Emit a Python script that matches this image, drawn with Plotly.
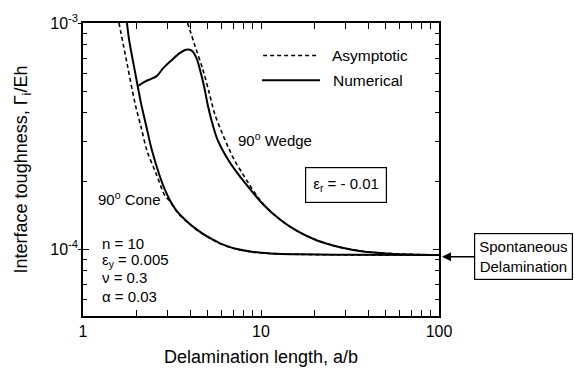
import plotly.graph_objects as go

# Normalised delamination length a/b and interface toughness Gamma_i/Eh
cone_num_x = [1.766, 1.813, 1.959, 2.118, 2.259, 2.443, 2.707, 2.888, 3.083, 3.287, 3.507, 3.839,
              4.257, 4.723, 5.306, 5.884, 6.697, 7.33, 9.02, 11.24, 16.6, 31.6, 100]
cone_num_y = [1.0e-3, 8.48e-4, 6.09e-4, 4.42e-4, 3.54e-4, 2.72e-4, 2.09e-4, 1.827e-4, 1.641e-4,
              1.511e-4, 1.418e-4, 1.326e-4, 1.238e-4, 1.168e-4, 1.107e-4, 1.060e-4, 1.020e-4,
              1.0e-4, 9.71e-5, 9.57e-5, 9.48e-5, 9.44e-5, 9.42e-5]

cone_asy_x = [1.593, 1.766, 1.959, 2.118, 2.289, 2.571, 2.888, 3.083, 3.287, 3.507, 3.839, 4.257,
              4.723, 5.306, 5.884, 6.697, 7.33, 9.02, 11.24, 16.6, 31.6, 100]
cone_asy_y = [1.0e-3, 6.65e-4, 4.42e-4, 3.47e-4, 2.72e-4, 2.165e-4, 1.72e-4, 1.625e-4, 1.50e-4,
              1.41e-4, 1.32e-4, 1.233e-4, 1.164e-4, 1.104e-4, 1.057e-4, 1.018e-4, 9.98e-5,
              9.70e-5, 9.56e-5, 9.47e-5, 9.43e-5, 9.41e-5]

wedge_num_x = [2.05, 2.23, 2.432, 2.594, 2.825, 3.149, 3.507, 3.791, 4.08, 4.354, 4.543, 4.783,
               5.037, 5.306, 5.659, 6.037, 6.525, 7.145, 7.924, 8.677, 10.26, 12.79, 15.93,
               20.64, 27.79, 37.41, 51.04, 68.73, 100]
wedge_num_y = [5.28e-4, 5.51e-4, 5.675e-4, 5.82e-4, 6.315e-4, 6.845e-4, 7.378e-4, 7.619e-4,
               7.545e-4, 6.96e-4, 6.21e-4, 5.266e-4, 4.295e-4, 3.64e-4, 3.087e-4, 2.773e-4,
               2.492e-4, 2.239e-4, 2.012e-4, 1.843e-4, 1.579e-4, 1.351e-4, 1.203e-4, 1.091e-4,
               1.0195e-4, 9.76e-5, 9.57e-5, 9.46e-5, 9.41e-5]

wedge_asy_x = [3.87, 4.26, 4.72, 5.105, 5.51, 6.037, 6.61, 7.145, 7.82, 8.45, 9.62, 11.23, 13.64,
               15.93, 20.64, 27.79, 37.41, 51.04, 100]
wedge_asy_y = [1.0e-3, 7.92e-4, 6.21e-4, 4.94e-4, 3.94e-4, 3.27e-4, 2.773e-4, 2.444e-4, 2.176e-4,
               1.974e-4, 1.69e-4, 1.475e-4, 1.30e-4, 1.205e-4, 1.093e-4, 1.02e-4, 9.77e-5,
               9.57e-5, 9.41e-5]

x_ticks = [1, 10, 100]
x_tick_text = ["1", "10", "100"]
x_minor = [2, 3, 4, 5, 6, 7, 8, 9, 20, 30, 40, 50, 60, 70, 80, 90]
y_ticks = [1e-4, 1e-3]
y_tick_text = ["10<sup>-4</sup>", "10<sup>-3</sup>"]
y_minor = [6e-5, 7e-5, 8e-5, 9e-5, 2e-4, 3e-4, 4e-4, 5e-4, 6e-4, 7e-4, 8e-4, 9e-4]

FONT = "Liberation Sans, Arial, sans-serif"
solid = dict(color="black", width=2, shape="spline", smoothing=0.9)
dashed = dict(color="black", width=1.6, dash="4px,3px", shape="spline", smoothing=0.9)

fig = go.Figure()
fig.add_trace(go.Scatter(x=cone_asy_x, y=cone_asy_y, mode="lines", line=dashed, name="Asymptotic"))
fig.add_trace(go.Scatter(x=wedge_asy_x, y=wedge_asy_y, mode="lines", line=dashed, showlegend=False))
fig.add_trace(go.Scatter(x=cone_num_x, y=cone_num_y, mode="lines", line=solid, name="Numerical"))
fig.add_trace(go.Scatter(x=wedge_num_x, y=wedge_num_y, mode="lines", line=solid, showlegend=False))

axis_common = dict(
    showline=True, linecolor="black", linewidth=1.5, mirror="allticks",
    ticks="inside", ticklen=6, tickwidth=1.2, tickcolor="black",
    showgrid=False, zeroline=False,
    tickfont=dict(family=FONT, size=16, color="black"),
)

fig.update_xaxes(
    type="log", range=[0, 2], tickmode="array", tickvals=x_ticks, ticktext=x_tick_text,
    minor=dict(ticks="inside", ticklen=4, tickwidth=1.2, tickcolor="black", tickmode="array", tickvals=x_minor),
    title=dict(text="Delamination length, a/b", font=dict(family=FONT, size=18, color="black"), standoff=11),
    **axis_common,
)
fig.update_yaxes(
    type="log", range=[-4.296, -3], tickmode="array", tickvals=y_ticks, ticktext=y_tick_text,
    minor=dict(ticks="inside", ticklen=4, tickwidth=1.2, tickcolor="black", tickmode="array", tickvals=y_minor),
    title=dict(text="Interface toughness, \u0393<sub>i</sub>/Eh", font=dict(family=FONT, size=18, color="black"), standoff=18),
    **axis_common,
)

# Short outer stubs on the major y ticks so they cross the axis line
fig.update_layout(yaxis2=dict(
    type="log", range=[-4.296, -3], overlaying="y", side="left", anchor="x",
    tickmode="array", tickvals=y_ticks, ticks="outside", ticklen=4, tickwidth=1.2,
    tickcolor="black", showticklabels=False, showline=False, showgrid=False, zeroline=False,
))
fig.add_trace(go.Scatter(x=[None], y=[None], yaxis="y2", showlegend=False, hoverinfo="skip"))

txt = dict(family=FONT, size=15, color="black")
leg = dict(family=FONT, size=15.5, color="black")
annotations = [
    dict(x=0.694, y=0.889, text="Asymptotic", xanchor="left", font=leg),
    dict(x=0.697, y=0.805, text="Numerical", xanchor="left", font=leg),
    dict(x=0.430, y=0.603, text="90<sup>o</sup> Wedge", xanchor="left"),
    dict(x=0.036, y=0.401, text="90<sup>o</sup> Cone", xanchor="left"),
    dict(x=0.048, y=0.248, text="n = 10", xanchor="left"),
    dict(x=0.048, y=0.189, text="\u03b5<sub>y</sub> = 0.005", xanchor="left"),
    dict(x=0.048, y=0.130, text="\u03bd = 0.3", xanchor="left"),
    dict(x=0.048, y=0.068, text="\u03b1 = 0.03", xanchor="left"),
    dict(x=0.739, y=0.446, text="\u03b5<sub>r</sub> = - 0.01", bordercolor="black",
         borderwidth=1.2, borderpad=7, bgcolor="white"),
]
for a in annotations:
    a.setdefault("font", txt)
    a.setdefault("xanchor", "center")
    a.update(xref="paper", yref="paper", showarrow=False, yanchor="middle")
    fig.add_annotation(**a)

# Spontaneous delamination level, pointed to from outside the right axis
fig.add_annotation(
    xref="paper", yref="paper", x=1.0084, y=0.202, ax=82, ay=0,
    text="Spontaneous<br>Delamination", font=txt, showarrow=True,
    arrowhead=2, arrowsize=1.2, arrowwidth=1.5, arrowcolor="black",
    bordercolor="black", borderwidth=1.2, borderpad=4, bgcolor="white",
)

# Legend keys
fig.add_shape(type="line", xref="paper", yref="paper", x0=0.506, x1=0.660, y0=0.889, y1=0.889,
              line=dict(color="black", width=1.6, dash="4px,3px"))
fig.add_shape(type="line", xref="paper", yref="paper", x0=0.503, x1=0.666, y0=0.805, y1=0.805,
              line=dict(color="black", width=2))

fig.update_layout(
    width=575, height=376,
    margin=dict(l=83, r=136, t=16, b=53),
    paper_bgcolor="white", plot_bgcolor="white",
    showlegend=False,
    font=dict(family=FONT, color="black"),
)

fig.write_html("out.html")
